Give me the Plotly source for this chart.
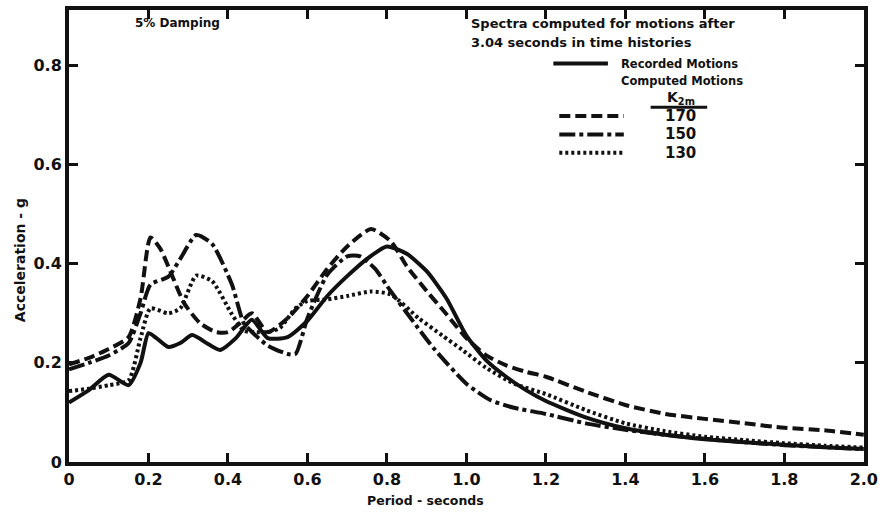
import plotly.graph_objects as go

# ---------------- data ----------------
x_ticks = [0, 0.2, 0.4, 0.6, 0.8, 1.0, 1.2, 1.4, 1.6, 1.8, 2.0]
x_tick_text = ["0", "0.2", "0.4", "0.6", "0.8", "1.0", "1.2", "1.4", "1.6", "1.8", "2.0"]
y_ticks = [0, 0.2, 0.4, 0.6, 0.8]
y_tick_text = ["0", "0.2", "0.4", "0.6", "0.8"]

# Recorded motions (solid)
rec_period = [0, 0.05, 0.1, 0.15, 0.18, 0.2, 0.22, 0.25, 0.28, 0.31, 0.35, 0.38, 0.42, 0.46,
              0.5, 0.55, 0.6, 0.65, 0.7, 0.75, 0.8, 0.85, 0.9, 0.95, 1.0, 1.05, 1.1, 1.15,
              1.2, 1.3, 1.4, 1.5, 1.6, 1.7, 1.8, 1.9, 2.0]
rec_acc = [0.12, 0.145, 0.176, 0.155, 0.2, 0.26, 0.25, 0.232, 0.24, 0.256, 0.238, 0.226, 0.25, 0.287,
           0.25, 0.252, 0.285, 0.335, 0.375, 0.41, 0.435, 0.42, 0.385, 0.33, 0.255, 0.205, 0.172, 0.145,
           0.123, 0.09, 0.068, 0.055, 0.046, 0.04, 0.035, 0.03, 0.026]

# Computed motions, K2m = 170 (dashed)
k170_period = [0, 0.05, 0.1, 0.15, 0.18, 0.205, 0.23, 0.26, 0.29, 0.33, 0.37, 0.4, 0.43, 0.46,
               0.5, 0.55, 0.6, 0.65, 0.7, 0.76, 0.81, 0.85, 0.9, 0.95, 1.0, 1.05, 1.1, 1.15,
               1.2, 1.3, 1.4, 1.5, 1.6, 1.7, 1.8, 1.9, 2.0]
k170_acc = [0.197, 0.21, 0.228, 0.252, 0.33, 0.453, 0.43, 0.375, 0.32, 0.28, 0.262, 0.262, 0.28, 0.3,
            0.262, 0.29, 0.335, 0.39, 0.435, 0.47, 0.445, 0.395, 0.345, 0.298, 0.25, 0.215, 0.195, 0.182,
            0.172, 0.142, 0.115, 0.097, 0.087, 0.078, 0.069, 0.064, 0.055]

# Computed motions, K2m = 150 (dash-dot)
k150_period = [0, 0.05, 0.1, 0.15, 0.18, 0.205, 0.25, 0.28, 0.32, 0.36, 0.41, 0.44, 0.47,
               0.5, 0.55, 0.57, 0.6, 0.65, 0.7, 0.733, 0.77, 0.81, 0.86, 0.917, 1.0, 1.06, 1.117,
               1.2, 1.3, 1.4, 1.5, 1.6, 1.7, 1.8, 1.9, 2.0]
k150_acc = [0.187, 0.2, 0.215, 0.24, 0.3, 0.358, 0.374, 0.41, 0.458, 0.44, 0.358, 0.28, 0.255,
            0.235, 0.218, 0.218, 0.29, 0.378, 0.415, 0.415, 0.39, 0.344, 0.29, 0.23, 0.158, 0.125, 0.11,
            0.097, 0.078, 0.065, 0.055, 0.047, 0.04, 0.034, 0.03, 0.026]

# Computed motions, K2m = 130 (dotted)
k130_period = [0, 0.05, 0.1, 0.15, 0.18, 0.205, 0.25, 0.28, 0.32, 0.36, 0.41, 0.44, 0.47,
               0.5, 0.53, 0.57, 0.6, 0.65, 0.7, 0.76, 0.81, 0.88, 0.94, 0.99, 1.05, 1.12,
               1.2, 1.3, 1.4, 1.5, 1.6, 1.7, 1.8, 1.9, 2.0]
k130_acc = [0.143, 0.148, 0.155, 0.165, 0.25, 0.31, 0.3, 0.31, 0.376, 0.365, 0.298, 0.265, 0.262,
            0.262, 0.27, 0.31, 0.325, 0.328, 0.335, 0.344, 0.338, 0.29, 0.255, 0.226, 0.19, 0.158,
            0.137, 0.105, 0.078, 0.062, 0.051, 0.044, 0.038, 0.033, 0.029]

legend_values = ["170", "150", "130"]

# ---------------- figure ----------------
W, H = 884, 514
ML, MR, MT, MB = 69, 14, 6, 52
PW, PH = W - ML - MR, H - MT - MB
Y_TOP = PH / 500.0  # 500 px per unit of acceleration
X_MAX = 2.0005


def px(xp):
    return (xp - ML) / PW


def py(yp):
    return (H - MB - yp) / PH


FONT = "DejaVu Sans"
INK = "#111111"

fig = go.Figure()

series = [
    (rec_period, rec_acc, "solid", 4),
    (k170_period, k170_acc, "11px,5px", 4),
    (k150_period, k150_acc, "16px,4px,4px,4px", 4),
    (k130_period, k130_acc, "3px,3px", 4),
]
for xs, ys, dash, w in series:
    fig.add_trace(go.Scatter(
        x=xs, y=ys, mode="lines",
        line=dict(color=INK, width=w, dash=dash, shape="spline", smoothing=0.6),
        showlegend=False, hoverinfo="skip", cliponaxis=True))

axis_common = dict(
    showline=True, linewidth=4, linecolor=INK, mirror="ticks",
    ticks="inside", ticklen=9, tickwidth=3, tickcolor=INK,
    showgrid=False, zeroline=False,
    tickfont=dict(family=FONT, size=16, color=INK, weight="bold"),
)

fig.update_xaxes(range=[0, X_MAX], tickmode="array", tickvals=x_ticks, ticktext=x_tick_text,
                 **axis_common)
fig.update_yaxes(range=[0, Y_TOP], tickmode="array", tickvals=y_ticks, ticktext=y_tick_text,
                 **axis_common)

annotations = []


def txt(text, xp, yp, size=13, xanchor="left", angle=0):
    annotations.append(dict(
        text=text, x=px(xp), y=py(yp), xref="paper", yref="paper",
        xanchor=xanchor, yanchor="middle", showarrow=False, textangle=angle,
        font=dict(family=FONT, size=size, color=INK, weight="bold")))


txt("5% Damping", 133, 19, size=12)
txt("Spectra computed for motions after", 472, 20, size=13)
txt("3.04 seconds in time histories", 472, 39, size=13)
txt("Recorded Motions", 623, 60, size=11.5)
txt("Computed Motions", 623, 78, size=11.5)
txt("K<sub>2m</sub>", 686, 95, size=14, xanchor="center")
for i, v in enumerate(legend_values):
    txt(v, 685, 113 + 18.5 * i, size=15, xanchor="center")

txt("Acceleration - g", 19, 258, size=14, xanchor="center", angle=-90)
txt("Period - seconds", 428, 501, size=12.5, xanchor="center")

fig.update_layout(annotations=annotations)

shapes = []
# legend line samples
shapes.append(dict(type="line", xref="paper", yref="paper",
                   x0=px(557), x1=px(612), y0=py(60), y1=py(60),
                   line=dict(color=INK, width=4)))
legend_dashes = ["11px,5px", "16px,4px,4px,4px", "3px,3px"]
for i, d in enumerate(legend_dashes):
    yy = 113 + 18.5 * i
    shapes.append(dict(type="line", xref="paper", yref="paper",
                       x0=px(563), x1=px(628), y0=py(yy), y1=py(yy),
                       line=dict(color=INK, width=4, dash=d)))
# underline below K2m
shapes.append(dict(type="line", xref="paper", yref="paper",
                   x0=px(655), x1=px(712), y0=py(104), y1=py(104),
                   line=dict(color=INK, width=3)))
fig.update_layout(shapes=shapes)

fig.update_layout(
    width=W, height=H,
    margin=dict(l=ML, r=MR, t=MT, b=MB, pad=0),
    paper_bgcolor="white", plot_bgcolor="white",
    font=dict(family=FONT, color=INK),
)

fig.write_html("out.html")
